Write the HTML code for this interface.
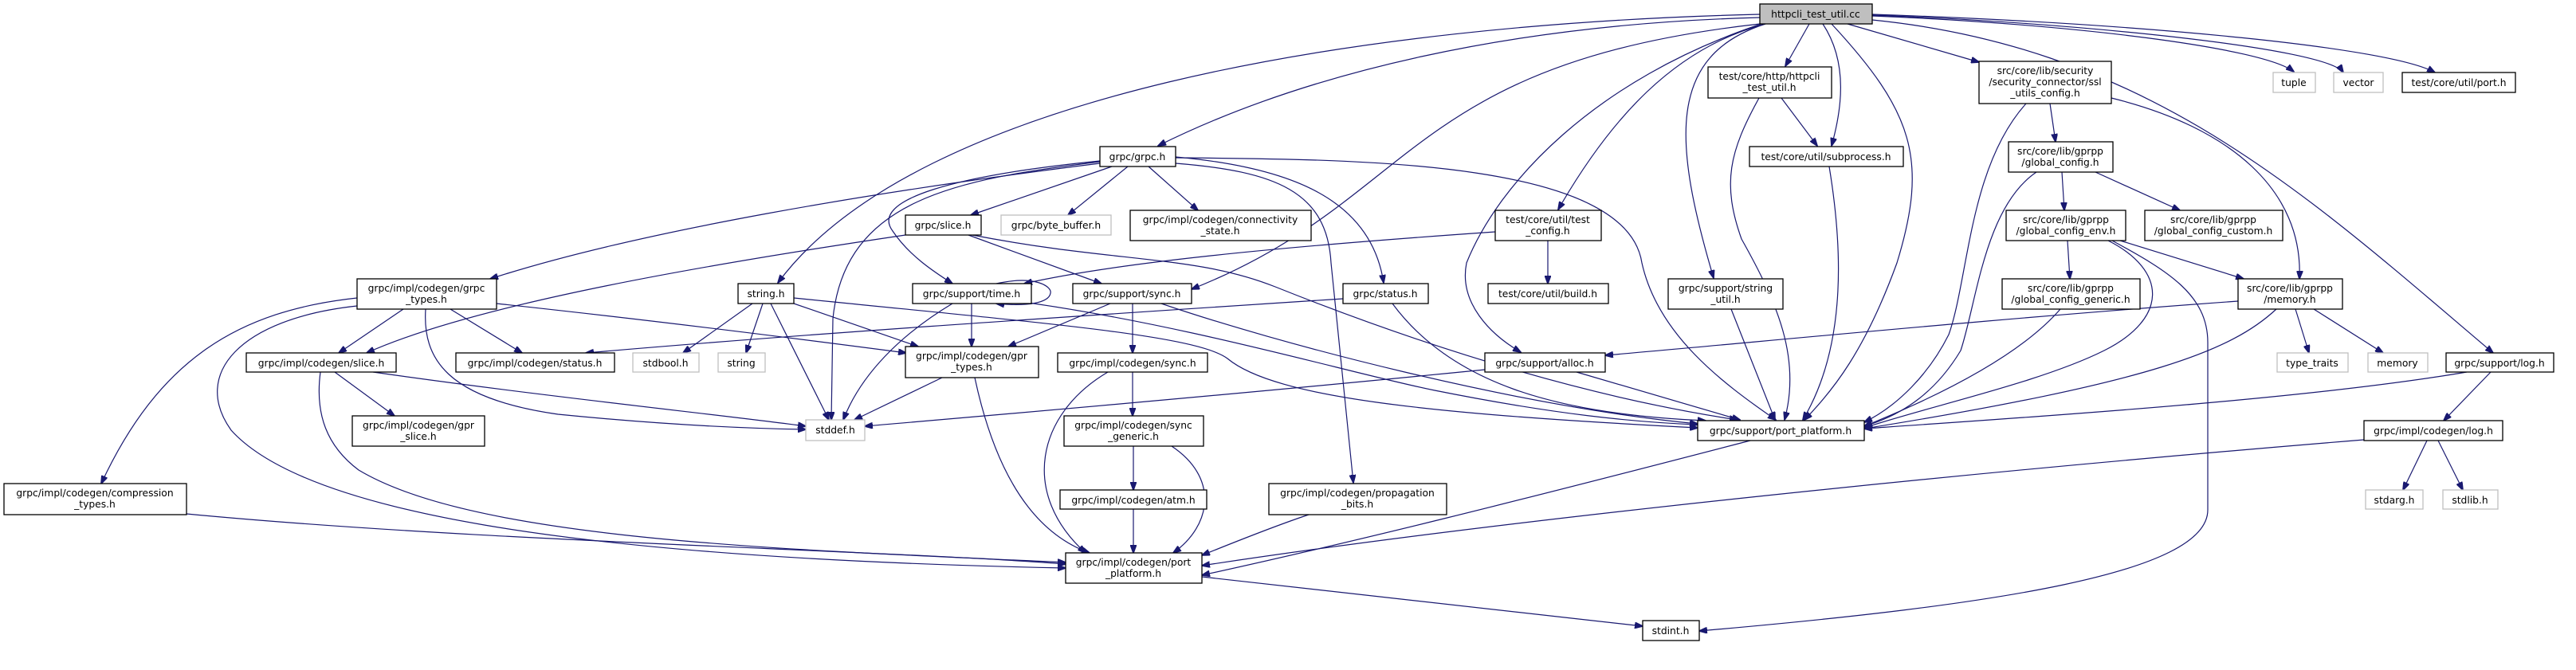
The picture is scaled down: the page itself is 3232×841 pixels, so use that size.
<!DOCTYPE html>
<html><head><meta charset="utf-8"><style>
html,body{margin:0;padding:0;background:#fff;}
svg{display:block}
text{font-family:"DejaVu Sans","Liberation Sans",sans-serif;font-size:12.3px;fill:#000;text-anchor:middle}
.n{fill:#fff;stroke:#000;stroke-width:1.3}
.g{fill:#fff;stroke:#bfbfbf;stroke-width:1.3}
.r{fill:#bfbfbf;stroke:#000;stroke-width:1.3}
path.e{fill:none;stroke:#191970;stroke-width:1.2;marker-end:url(#a)}
</style></head><body>
<svg width="3232" height="841" viewBox="0 0 3232 841" xmlns="http://www.w3.org/2000/svg">
<defs><marker id="a" markerWidth="11" markerHeight="8" refX="10" refY="4" orient="auto" markerUnits="userSpaceOnUse"><path d="M0,0 L11,4 L0,8 z" fill="#191970" stroke="#191970"/></marker></defs>
<g>
<path class="e" d="M2208,22 C1900,30 1640,90 1453,183"/>
<path class="e" d="M2208,18 C1700,30 1150,120 976,355"/>
<path class="e" d="M2208,30 C1760,80 1780,250 1495,363"/>
<path class="e" d="M1876,291 C1600,310 1400,330 1285,356"/>
<path class="e" d="M2215,30 C2100,60 2020,150 1955,263"/>
<path class="e" d="M2210,30 C2000,100 1880,230 1840,330 C1830,380 1870,420 1908,442"/>
<path class="e" d="M2215,30 C2090,70 2100,180 2150,349"/>
<path class="e" d="M2270,30 L2240,83"/>
<path class="e" d="M2287,30 C2320,80 2310,140 2298,183"/>
<path class="e" d="M2298,30 C2400,140 2420,200 2380,330 C2340,440 2300,490 2264,527"/>
<path class="e" d="M2318,30 L2483,78"/>
<path class="e" d="M2349,25 C2700,60 2900,250 3128,443"/>
<path class="e" d="M2349,20 C2600,30 2840,60 2878,90"/>
<path class="e" d="M2349,19 C2600,28 2920,60 2940,91"/>
<path class="e" d="M2349,18 C2700,30 3000,60 3055,91"/>
<path class="e" d="M1395,209 L1218,270"/>
<path class="e" d="M1415,209 L1340,270"/>
<path class="e" d="M1441,209 L1503,264"/>
<path class="e" d="M1475,197 C1620,210 1720,250 1736,355"/>
<path class="e" d="M1380,202 C1200,220 1090,250 1120,290 C1140,320 1170,340 1195,356"/>
<path class="e" d="M1380,203 C1200,225 1060,250 1045,400 L1043,527"/>
<path class="e" d="M1380,205 C1100,240 800,290 615,350"/>
<path class="e" d="M1475,205 C1600,215 1665,240 1670,330 L1698,606"/>
<path class="e" d="M1475,198 C1700,200 2040,200 2060,330 C2080,420 2160,480 2228,527"/>
<path class="e" d="M1136,295 C900,330 600,380 460,443"/>
<path class="e" d="M1215,295 L1382,356"/>
<path class="e" d="M1220,295 C1400,330 1500,320 1600,360 C1800,440 2000,500 2180,527"/>
<path class="e" d="M506,388 L425,443"/>
<path class="e" d="M565,388 L655,443"/>
<path class="e" d="M623,381 C800,400 1000,425 1137,443"/>
<path class="e" d="M534,388 C530,450 560,500 700,520 C850,535 950,538 1011,539"/>
<path class="e" d="M448,374 C300,390 200,450 127,607"/>
<path class="e" d="M448,384 C300,400 240,470 290,540 C380,640 700,700 1337,713"/>
<path class="e" d="M420,467 L495,522"/>
<path class="e" d="M468,467 C700,500 900,520 1011,535"/>
<path class="e" d="M402,467 C395,520 410,560 450,590 C600,680 1000,690 1337,706"/>
<path class="e" d="M234,645 C600,680 1100,690 1337,708"/>
<path class="e" d="M944,381 L857,443"/>
<path class="e" d="M957,381 L936,443"/>
<path class="e" d="M967,381 L1040,527"/>
<path class="e" d="M996,381 L1152,435"/>
<path class="e" d="M996,374 C1300,405 1500,420 1540,450 C1600,500 1800,520 2130,537"/>
<path class="e" d="M1250,356 C1300,345 1320,360 1318,368 C1316,380 1290,385 1250,381"/>
<path class="e" d="M1219,381 L1219,435"/>
<path class="e" d="M1195,381 C1130,420 1080,470 1058,527"/>
<path class="e" d="M1290,380 C1500,410 1700,470 1800,490 C1950,520 2050,530 2130,533"/>
<path class="e" d="M1393,381 L1265,435"/>
<path class="e" d="M1421,381 L1421,443"/>
<path class="e" d="M1457,381 C1600,430 1900,510 2130,532"/>
<path class="e" d="M1685,375 C1300,400 1000,420 735,443"/>
<path class="e" d="M1747,381 C1820,480 1950,520 2140,528"/>
<path class="e" d="M1182,474 L1072,527"/>
<path class="e" d="M1223,474 C1250,600 1300,670 1367,694"/>
<path class="e" d="M1421,467 L1421,522"/>
<path class="e" d="M1390,467 C1300,520 1280,620 1362,694"/>
<path class="e" d="M1422,560 L1422,615"/>
<path class="e" d="M1470,560 C1530,600 1520,660 1472,694"/>
<path class="e" d="M1422,639 L1422,694"/>
<path class="e" d="M1642,646 C1600,660 1550,680 1508,697"/>
<path class="e" d="M1942,302 L1942,356"/>
<path class="e" d="M2172,388 L2227,527"/>
<path class="e" d="M1863,464 C1500,500 1200,525 1085,535"/>
<path class="e" d="M1978,467 L2183,527"/>
<path class="e" d="M2235,123 L2280,183"/>
<path class="e" d="M2207,123 C2170,190 2160,230 2185,300 C2230,380 2260,450 2239,527"/>
<path class="e" d="M2295,209 C2310,300 2320,430 2262,527"/>
<path class="e" d="M2196,553 C1900,630 1700,680 1508,722"/>
<path class="e" d="M1508,724 L2061,786"/>
<path class="e" d="M2572,130 L2579,178"/>
<path class="e" d="M2649,123 C2800,160 2890,240 2885,350"/>
<path class="e" d="M2542,130 C2470,210 2470,350 2445,420 C2420,470 2380,510 2339,530"/>
<path class="e" d="M2587,216 L2590,264"/>
<path class="e" d="M2629,216 L2735,264"/>
<path class="e" d="M2555,216 C2490,260 2480,380 2460,440 C2430,490 2390,520 2339,535"/>
<path class="e" d="M2594,302 L2597,350"/>
<path class="e" d="M2660,302 L2815,350"/>
<path class="e" d="M2645,302 C2720,340 2720,400 2640,440 C2560,480 2420,510 2339,537"/>
<path class="e" d="M2650,302 C2720,340 2770,370 2770,430 L2770,640 C2770,720 2500,760 2132,792"/>
<path class="e" d="M2585,388 C2540,440 2450,490 2339,535"/>
<path class="e" d="M2880,388 L2897,443"/>
<path class="e" d="M2903,388 L2990,443"/>
<path class="e" d="M2856,388 C2800,440 2700,480 2339,538"/>
<path class="e" d="M2808,378 C2500,400 2200,430 2014,446"/>
<path class="e" d="M3125,467 L3066,528"/>
<path class="e" d="M3095,467 C2900,500 2600,520 2339,538"/>
<path class="e" d="M3045,553 L3015,615"/>
<path class="e" d="M3059,553 L3090,615"/>
<path class="e" d="M2966,552 C2500,590 1900,650 1508,710"/>
</g>
<g>
<rect class="r" x="2208" y="5" width="141" height="25"/><text x="2278" y="22">httpcli_test_util.cc</text>
<rect class="n" x="1380" y="184" width="95" height="25"/><text x="1427" y="201">grpc/grpc.h</text>
<rect class="n" x="1136" y="270" width="95" height="25"/><text x="1183" y="287">grpc/slice.h</text>
<rect class="g" x="1256" y="270" width="138" height="25"/><text x="1325" y="287">grpc/byte_buffer.h</text>
<rect class="n" x="1418" y="264" width="227" height="38"/><text x="1531" y="280">grpc/impl/codegen/connectivity</text><text x="1531" y="294">_state.h</text>
<rect class="n" x="926" y="356" width="70" height="25"/><text x="961" y="373">string.h</text>
<rect class="n" x="1145" y="356" width="149" height="25"/><text x="1219" y="373">grpc/support/time.h</text>
<rect class="n" x="1346" y="356" width="149" height="25"/><text x="1420" y="373">grpc/support/sync.h</text>
<rect class="n" x="1685" y="356" width="107" height="25"/><text x="1738" y="373">grpc/status.h</text>
<rect class="n" x="1876" y="264" width="133" height="38"/><text x="1942" y="280">test/core/util/test</text><text x="1942" y="294">_config.h</text>
<rect class="n" x="1867" y="356" width="151" height="25"/><text x="1942" y="373">test/core/util/build.h</text>
<rect class="n" x="2093" y="350" width="144" height="38"/><text x="2165" y="366">grpc/support/string</text><text x="2165" y="380">_util.h</text>
<rect class="n" x="1863" y="443" width="151" height="24"/><text x="1938" y="460">grpc/support/alloc.h</text>
<rect class="n" x="2130" y="528" width="209" height="25"/><text x="2234" y="545">grpc/support/port_platform.h</text>
<rect class="n" x="2143" y="84" width="155" height="39"/><text x="2220" y="100">test/core/http/httpcli</text><text x="2220" y="114">_test_util.h</text>
<rect class="n" x="2195" y="184" width="193" height="25"/><text x="2291" y="201">test/core/util/subprocess.h</text>
<rect class="n" x="2483" y="77" width="166" height="53"/><text x="2566" y="93">src/core/lib/security</text><text x="2566" y="107">/security_connector/ssl</text><text x="2566" y="121">_utils_config.h</text>
<rect class="n" x="2520" y="178" width="131" height="38"/><text x="2585" y="194">src/core/lib/gprpp</text><text x="2585" y="208">/global_config.h</text>
<rect class="n" x="2517" y="264" width="150" height="38"/><text x="2592" y="280">src/core/lib/gprpp</text><text x="2592" y="294">/global_config_env.h</text>
<rect class="n" x="2691" y="264" width="173" height="38"/><text x="2777" y="280">src/core/lib/gprpp</text><text x="2777" y="294">/global_config_custom.h</text>
<rect class="n" x="2512" y="350" width="173" height="38"/><text x="2598" y="366">src/core/lib/gprpp</text><text x="2598" y="380">/global_config_generic.h</text>
<rect class="n" x="2808" y="350" width="131" height="38"/><text x="2873" y="366">src/core/lib/gprpp</text><text x="2873" y="380">/memory.h</text>
<rect class="g" x="2857" y="443" width="89" height="24"/><text x="2901" y="460">type_traits</text>
<rect class="g" x="2971" y="443" width="75" height="24"/><text x="3008" y="460">memory</text>
<rect class="n" x="3069" y="443" width="135" height="24"/><text x="3136" y="460">grpc/support/log.h</text>
<rect class="n" x="2966" y="528" width="174" height="25"/><text x="3053" y="545">grpc/impl/codegen/log.h</text>
<rect class="g" x="2968" y="615" width="72" height="24"/><text x="3004" y="632">stdarg.h</text>
<rect class="g" x="3065" y="615" width="69" height="24"/><text x="3099" y="632">stdlib.h</text>
<rect class="g" x="2852" y="91" width="53" height="25"/><text x="2878" y="108">tuple</text>
<rect class="g" x="2928" y="91" width="62" height="25"/><text x="2959" y="108">vector</text>
<rect class="n" x="3014" y="91" width="142" height="25"/><text x="3085" y="108">test/core/util/port.h</text>
<rect class="n" x="448" y="350" width="175" height="38"/><text x="535" y="366">grpc/impl/codegen/grpc</text><text x="535" y="380">_types.h</text>
<rect class="n" x="309" y="443" width="188" height="24"/><text x="403" y="460">grpc/impl/codegen/slice.h</text>
<rect class="n" x="572" y="443" width="199" height="24"/><text x="671" y="460">grpc/impl/codegen/status.h</text>
<rect class="n" x="442" y="522" width="166" height="38"/><text x="525" y="538">grpc/impl/codegen/gpr</text><text x="525" y="552">_slice.h</text>
<rect class="n" x="5" y="607" width="229" height="39"/><text x="119" y="623">grpc/impl/codegen/compression</text><text x="119" y="637">_types.h</text>
<rect class="g" x="794" y="443" width="83" height="24"/><text x="835" y="460">stdbool.h</text>
<rect class="g" x="901" y="443" width="59" height="24"/><text x="930" y="460">string</text>
<rect class="n" x="1136" y="435" width="167" height="39"/><text x="1219" y="451">grpc/impl/codegen/gpr</text><text x="1219" y="465">_types.h</text>
<rect class="n" x="1327" y="443" width="188" height="24"/><text x="1421" y="460">grpc/impl/codegen/sync.h</text>
<rect class="g" x="1011" y="527" width="74" height="26"/><text x="1048" y="544">stddef.h</text>
<rect class="n" x="1335" y="522" width="175" height="38"/><text x="1422" y="538">grpc/impl/codegen/sync</text><text x="1422" y="552">_generic.h</text>
<rect class="n" x="1330" y="615" width="184" height="24"/><text x="1422" y="632">grpc/impl/codegen/atm.h</text>
<rect class="n" x="1337" y="694" width="171" height="38"/><text x="1422" y="710">grpc/impl/codegen/port</text><text x="1422" y="724">_platform.h</text>
<rect class="n" x="1592" y="607" width="223" height="39"/><text x="1703" y="623">grpc/impl/codegen/propagation</text><text x="1703" y="637">_bits.h</text>
<rect class="n" x="2061" y="779" width="71" height="25"/><text x="2096" y="796">stdint.h</text>
</g>
</svg>
</body></html>
